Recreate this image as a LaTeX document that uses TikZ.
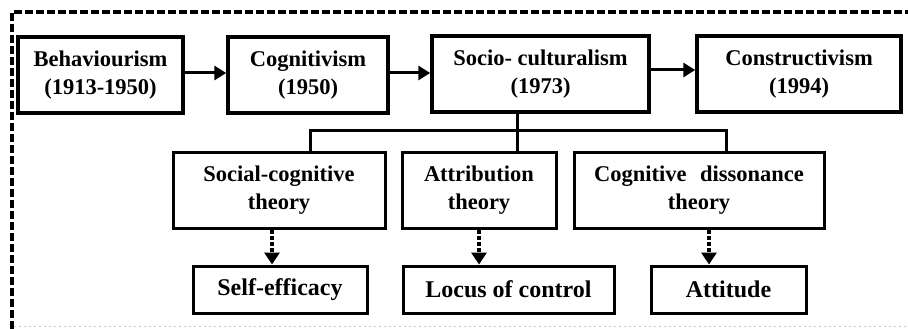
\documentclass[tikz,border=0pt]{standalone}
\usepackage{fontspec}
\setmainfont{Liberation Serif}
\usetikzlibrary{arrows.meta}
\begin{document}
\begin{tikzpicture}[x=1pt,y=-1pt,
  box/.style={draw=black, rectangle, align=center, inner sep=0pt,
    font=\bfseries\fontsize{22.5}{28}\selectfont},
  topbox/.style={box, line width=3.5pt, minimum height=76pt},
  midbox/.style={box, line width=3pt, minimum height=76pt},
  lowbox/.style={box, line width=3pt, minimum height=47pt,
    font=\bfseries\fontsize{24}{28}\selectfont},
  solidarrow/.style={line width=3pt, -{Triangle[length=12pt,width=14pt]}},
  dasharrow/.style={line width=3.5pt, dash pattern=on 4pt off 2pt, -{Triangle[length=12pt,width=15pt]}},
  tree/.style={line width=3pt},
  frame/.style={line width=3.5pt, dash pattern=on 8pt off 3pt},
  faint/.style={line width=1pt, gray!45, dash pattern=on 2pt off 3pt}
]
\useasboundingbox (0,0) rectangle (908,329);

% outer frame
\coordinate (fbl) at (12,329);
\coordinate (ftl) at (12,12);
\coordinate (ftr) at (908,12);
\coordinate (fb1) at (14,326);
\coordinate (fb2) at (908,326);
\draw[frame] (fbl) -- (ftl) -- (ftr);
\draw[faint] (fb1) -- (fb2);

% top row
\node[topbox, minimum width=165pt] (beh) at (100.5,75) {Behaviourism\\(1913-1950)};
\node[topbox, minimum width=160pt] (cog) at (308,75) {Cognitivism\\(1950)};
\node[topbox, minimum width=217pt] (soc) at (540.5,74) {Socio- culturalism\\(1973)};
\node[topbox, minimum width=204pt] (con) at (799,74) {Constructivism\\(1994)};

% middle row
\node[midbox, minimum width=212pt] (sct) at (279,190) {Social-cognitive\\theory};
\node[midbox, minimum width=154pt] (att) at (479,190) {Attribution\\theory};
\node[midbox, minimum width=250pt] (cdt) at (699,190) {Cognitive\hspace{0.6em}dissonance\\theory};

% bottom row
\node[lowbox, minimum width=174pt] (se) at (280,289.5) {Self-efficacy};
\node[lowbox, minimum width=211pt] (loc) at (508.5,289.5) {Locus of control};
\node[lowbox, minimum width=155pt] (atd) at (728.5,289.5) {Attitude};

% top arrows
\draw[solidarrow] ([yshift=2pt]beh.east) -- ([yshift=2pt]beh.east -| cog.west);
\draw[solidarrow] ([yshift=2pt]cog.east) -- ([yshift=2pt]cog.east -| soc.west);
\draw[solidarrow] ([yshift=4pt]soc.east) -- ([yshift=4pt]soc.east -| con.west);

% tree connector
\coordinate (tj) at ([xshift=-23.5pt]soc.south);
\coordinate (tl) at ([xshift=31pt]sct.north);
\coordinate (tr) at ([xshift=27pt]cdt.north);
\draw[tree] (tj) -- (tj |- att.north);
\draw[tree] (tl) -- ++(0,-20) -| (tr);

% dashed arrows
\draw[dasharrow] ([xshift=-7pt]sct.south) -- ([xshift=-7pt]sct.south |- se.north);
\draw[dasharrow] (att.south) -- (att.south |- loc.north);
\draw[dasharrow] ([xshift=10pt]cdt.south) -- ([xshift=10pt]cdt.south |- atd.north);
\end{tikzpicture}
\end{document}
